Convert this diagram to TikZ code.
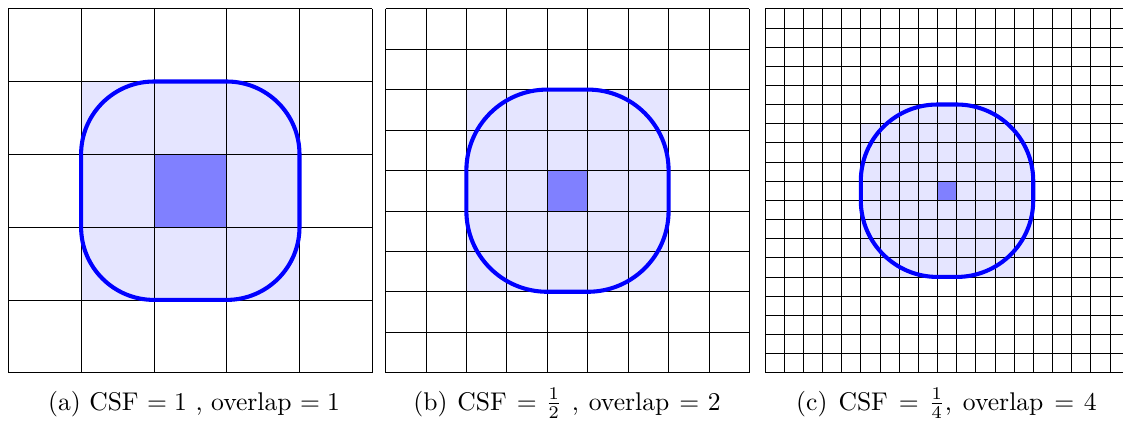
\documentclass[tikz,border=0pt]{standalone}
\usepackage{amsmath,amssymb}
\usepackage{tikz}
\usetikzlibrary{positioning}

\tikzset{
  gridline/.style={black,line width=0.5pt},
  patchfill/.style={fill=blue!10},
  cellfill/.style={fill=blue!50},
  supportline/.style={blue,line width=2.9pt},
  caption/.style={font=\normalsize,scale=1.82,transform shape,anchor=base}
}

\begin{document}
\begin{tikzpicture}[x=0.025cm,y=-0.025cm]
  \useasboundingbox (0,0) rectangle (1123,422);
  \clip (0,0) rectangle (1123,422);
  % (a) 5x5 cells
  \begin{scope}[shift={(8.3,8.7)}]
    \def\s{72.8}
    \fill[patchfill] (\s,\s) rectangle (4*\s,4*\s);
    \fill[cellfill] (2*\s,2*\s) rectangle (3*\s,3*\s);
    \foreach \i in {0,...,5} {
      \draw[gridline] (\i*\s,0) -- (\i*\s,5*\s);
      \draw[gridline] (0,\i*\s) -- (5*\s,\i*\s);
    }
    \draw[supportline,rounded corners=1.82cm] (\s,\s) rectangle (4*\s,4*\s);
  \end{scope}
  % (b) 9x9 cells
  \begin{scope}[shift={(385.5,8.7)}]
    \def\s{40.44}
    \fill[patchfill] (2*\s,2*\s) rectangle (7*\s,7*\s);
    \fill[cellfill] (4*\s,4*\s) rectangle (5*\s,5*\s);
    \foreach \i in {0,...,9} {
      \draw[gridline] (\i*\s,0) -- (\i*\s,9*\s);
      \draw[gridline] (0,\i*\s) -- (9*\s,\i*\s);
    }
    \draw[supportline,rounded corners=2.02cm] (2*\s,2*\s) rectangle (7*\s,7*\s);
  \end{scope}
  % (c) 19x19 cells, corners of the patch left out
  \begin{scope}[shift={(765,8.7)}]
    \def\s{19.16}
    \fill[patchfill] (6*\s,5*\s) rectangle (13*\s,14*\s);
    \fill[patchfill] (5*\s,6*\s) rectangle (14*\s,13*\s);
    \fill[cellfill] (9*\s,9*\s) rectangle (10*\s,10*\s);
    \foreach \i in {0,...,19} {
      \draw[gridline] (\i*\s,0) -- (\i*\s,19*\s);
      \draw[gridline] (0,\i*\s) -- (19*\s,\i*\s);
    }
    \draw[supportline,rounded corners=1.915cm] (5*\s,5*\s) rectangle (14*\s,14*\s);
  \end{scope}
  % captions
  \node[caption] (capa) at (194,410) {(a) CSF $= 1$ , overlap $= 1$};
  \node[caption,font={\normalsize\spaceskip=3.9pt\relax\thickmuskip=6.1mu\relax}]
    (capb) at (567,410) {(b) CSF $= \frac{1}{2}$ , overlap $= 2$};
  \node[caption,font={\normalsize\spaceskip=4.3pt\relax\thickmuskip=6.8mu\relax}]
    (capc) at (946.5,410) {(c) CSF $= \frac{1}{4}$, overlap $= 4$};
\end{tikzpicture}
\end{document}
